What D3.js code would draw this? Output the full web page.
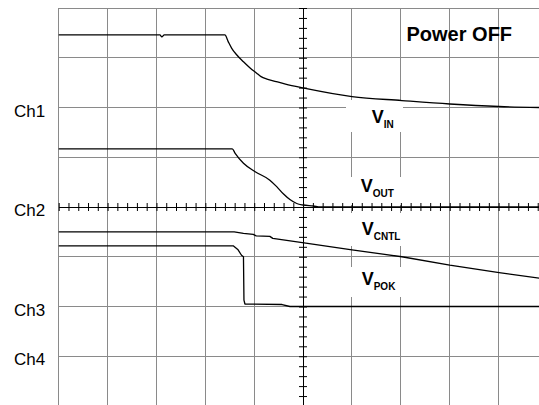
<!DOCTYPE html>
<html><head><meta charset="utf-8">
<script src="https://cdn.jsdelivr.net/npm/d3@7"></script>
<style>html,body{margin:0;padding:0;background:#fff;} svg{display:block;}</style>
</head><body><svg id="c" width="539" height="405"></svg>
<script>
// ---- Data (time and voltage in scope divisions) ----
const channels = ["Ch1", "Ch2", "Ch3", "Ch4"];
const channelLevels = [2, 0, -2, -3];
const title = "Power OFF";

const vinT = [0, 2.07, 2.11, 2.16, 3.40, 3.47, 3.54, 3.64, 3.78, 3.91, 4.05, 4.14, 4.26, 4.45, 4.64, 5.02, 6.00, 7.02, 8.00, 9.01, 9.83];
const vinV = [3.46, 3.46, 3.42, 3.46, 3.46, 3.32, 3.19, 3.06, 2.92, 2.80, 2.69, 2.62, 2.57, 2.52, 2.47, 2.39, 2.22, 2.14, 2.07, 2.02, 2.00];

const voutT = [0, 3.55, 3.61, 3.78, 4.02, 4.32, 4.46, 4.60, 4.73, 4.87, 5.00, 5.21, 5.35, 9.83];
const voutV = [1.17, 1.17, 1.08, 0.88, 0.71, 0.54, 0.41, 0.26, 0.15, 0.07, 0.04, 0.02, 0, 0];

const vcntlT = [0, 3.59, 3.78, 3.98, 4.04, 4.32, 4.38, 5.02, 6.00, 7.02, 8.00, 9.01, 9.83];
const vcntlV = [-0.50, -0.50, -0.53, -0.55, -0.58, -0.59, -0.63, -0.72, -0.86, -1.00, -1.17, -1.32, -1.43];

const vpokT = [0, 3.57, 3.67, 3.74, 3.78, 3.79, 3.81, 4.57, 4.73, 9.83];
const vpokV = [-0.78, -0.78, -0.86, -0.97, -1.00, -1.87, -1.95, -1.96, -2.00, -2.00];

const traceNames = [["V", "IN"], ["V", "OUT"], ["V", "CNTL"], ["V", "POK"]];

// ---- Layout ----
const svg = d3.select("#c");
const x = d3.scaleLinear().domain([0, 10]).range([58.7, 547.5]);
const y = d3.scaleLinear().domain([-4, 4]).range([406, 8]);
const snap = v => Math.floor(v) + 0.5;
const gridColor = "#8a8a8a";
const font = "'Liberation Sans', Arial, Helvetica, sans-serif";

// grid
const grid = svg.append("g");
grid.selectAll("line.v").data(d3.range(0, 11)).join("line")
  .attr("x1", d => snap(x(d))).attr("x2", d => snap(x(d)))
  .attr("y1", y(4)).attr("y2", y(-4))
  .attr("stroke", gridColor).attr("stroke-width", 1);
grid.selectAll("line.h").data(d3.range(-4, 5)).join("line")
  .attr("y1", d => snap(y(d))).attr("y2", d => snap(y(d)))
  .attr("x1", snap(x(0))).attr("x2", x(10))
  .attr("stroke", gridColor).attr("stroke-width", 1);

// label backgrounds
const labelLayout = [
  {x: 371.7, y: 123, box: [346, 100, 403, 132]},
  {x: 360.7, y: 191.5, box: [344, 177, 409, 205]},
  {x: 361.7, y: 235, box: [346, 213, 403, 246]},
  {x: 361.7, y: 285, box: [346, 267, 403, 297]}
];
svg.append("g").selectAll("rect").data(labelLayout).join("rect")
  .attr("x", d => d.box[0]).attr("y", d => d.box[1])
  .attr("width", d => d.box[2] - d.box[0]).attr("height", d => d.box[3] - d.box[1])
  .attr("fill", "#fff");

// center axes with minor ticks
const cx = snap(x(5)), cy = snap(y(0));
const tickV = d3.range(-20, 21).map(i => i / 5);
const tickT = d3.range(0, 51).map(i => i / 5);
const axG = svg.append("g");
axG.append("g").attr("transform", `translate(${cx - 0.5},0)`)
  .call(d3.axisLeft(y).tickValues(tickV).tickSize(4).tickSizeOuter(0).tickFormat(""));
axG.append("g").attr("transform", `translate(${cx - 0.5},0)`)
  .call(d3.axisRight(y).tickValues(tickV).tickSize(4).tickSizeOuter(0).tickFormat(""));
axG.append("g").attr("transform", `translate(0,${cy - 0.5})`)
  .call(d3.axisTop(x).tickValues(tickT).tickSize(4).tickSizeOuter(0).tickFormat(""));
axG.append("g").attr("transform", `translate(0,${cy - 0.5})`)
  .call(d3.axisBottom(x).tickValues(tickT).tickSize(4).tickSizeOuter(0).tickFormat(""));
axG.selectAll("path.domain").attr("stroke", "#000").attr("stroke-width", 1);
axG.selectAll(".tick line").attr("stroke", "#000").attr("stroke-width", 1);

// traces
const smooth = d3.line().x(d => x(d[0])).y(d => y(d[1])).curve(d3.curveMonotoneX);
const straight = d3.line().x(d => x(d[0])).y(d => y(d[1]));
const traces = [[vinT, vinV, smooth], [voutT, voutV, smooth], [vcntlT, vcntlV, straight], [vpokT, vpokV, straight]];
svg.append("g").selectAll("path").data(traces).join("path")
  .attr("d", d => d[2](d[0].map((t, i) => [t, d[1][i]])))
  .attr("fill", "none").attr("stroke", "#000").attr("stroke-width", 1.3)
  .attr("stroke-linejoin", "round");

// channel labels
svg.append("g").selectAll("text").data(channels).join("text")
  .attr("x", 14).attr("y", (d, i) => y(channelLevels[i]) + 9)
  .attr("font-family", font).attr("font-size", 17).attr("fill", "#000")
  .text(d => d);

// trace labels
const tl = svg.append("g").selectAll("text").data(traceNames).join("text")
  .attr("x", (d, i) => labelLayout[i].x).attr("y", (d, i) => labelLayout[i].y)
  .attr("font-family", font).attr("font-weight", "bold").attr("font-size", 18).attr("fill", "#000");
tl.append("tspan").text(d => d[0]);
tl.append("tspan").attr("dy", 5).attr("font-size", 10).text(d => d[1]);

// title
svg.append("text").attr("x", 406.5).attr("y", 40.5)
  .attr("font-family", font).attr("font-weight", "bold").attr("font-size", 20).attr("fill", "#000")
  .text(title);
</script>
</body></html>
